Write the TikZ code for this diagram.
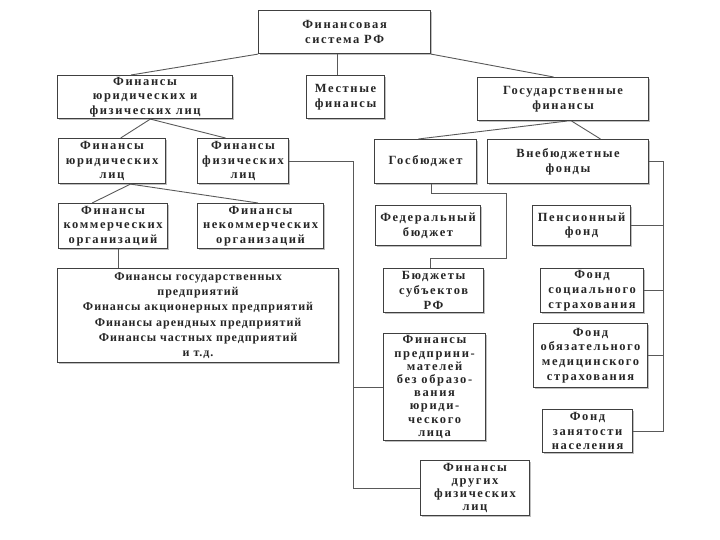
\documentclass[tikz,border=0pt]{standalone}
\usepackage{fontspec}
\setmainfont{Liberation Serif}[LetterSpace=13]
\usetikzlibrary{calc,shadows}
\tikzset{
  box/.style={draw=black!75, line width=1.1pt, fill=white, align=center, anchor=north west,
    inner sep=1pt, font=\bfseries\fontsize{12.5}{14.8}\selectfont, text=black!85,
    drop shadow={shadow xshift=1.2pt, shadow yshift=-1.2pt, fill=black!25, opacity=1}},
  conn/.style={draw=black!65, line width=0.9pt}
}
\begin{document}
\begin{tikzpicture}[x=1pt,y=-1pt]
\useasboundingbox (0,0) rectangle (720,540);
\newcommand{\bx}[7]{\node[box, minimum width=#4pt, minimum height=#5pt, #6] (#1) at (#2,#3) {#7};}
\bx{fs}{258}{10}{172}{43}{}{Финансовая\\система РФ}
\bx{fuf}{57}{75}{175}{43}{}{Финансы\\юридических и\\физических лиц}
\bx{mest}{306}{75}{78}{43}{}{Местные\\финансы}
\bx{gosf}{477}{77}{171}{43}{}{Государственные\\финансы}
\bx{fyur}{58}{138}{107}{45}{}{Финансы\\юридических\\лиц}
\bx{ffiz}{197}{138}{91}{45}{}{Финансы\\физических\\лиц}
\bx{gb}{374}{139}{102}{44}{}{Госбюджет}
\bx{vnb}{487}{139}{161}{44}{}{Внебюджетные\\фонды}
\bx{kom}{58}{203}{109}{45}{}{Финансы\\коммерческих\\организаций}
\bx{nekom}{197}{203}{126}{45}{}{Финансы\\некоммерческих\\организаций}
\bx{fed}{375}{205}{105}{40}{}{Федеральный\\бюджет}
\bx{pens}{532}{205}{98}{40}{}{Пенсионный\\фонд}
\bx{big}{57}{268}{281}{94}{font=\bfseries\fontsize{12}{15.2}\selectfont\addfontfeatures{LetterSpace=8}}{Финансы государственных\\предприятий\\Финансы акционерных предприятий\\Финансы арендных предприятий\\Финансы частных предприятий\\и т.д.}
\bx{subj}{383}{268}{100}{44}{}{Бюджеты\\субъектов\\РФ}
\bx{soc}{540}{268}{103}{44}{}{Фонд\\социального\\страхования}
\bx{oms}{533}{323}{114}{64}{}{Фонд\\обязательного\\медицинского\\страхования}
\bx{pred}{383}{333}{102}{107}{font=\bfseries\fontsize{12.5}{13.2}\selectfont}{Финансы\\предприни-\\мателей\\без образо-\\вания\\юриди-\\ческого\\лица}
\bx{zan}{542}{409}{90}{43}{}{Фонд\\занятости\\населения}
\bx{dr}{420}{460}{109}{55}{font=\bfseries\fontsize{12.5}{13}\selectfont}{Финансы\\других\\физических\\лиц}
% connectors
\draw[conn] (fs.south west) -- ($(fuf.north west)!0.42!(fuf.north east)$);
\draw[conn] (mest.north -| 337,0) -- (fs.south -| 337,0);
\draw[conn] (fs.south east) -- ($(gosf.north west)!0.445!(gosf.north east)$);
\draw[conn] ($(fuf.south west)!0.53!(fuf.south east)$) -- ($(fyur.north west)!0.58!(fyur.north east)$);
\draw[conn] ($(fuf.south west)!0.53!(fuf.south east)$) -- ($(ffiz.north west)!0.31!(ffiz.north east)$);
\draw[conn] ($(fyur.south west)!0.67!(fyur.south east)$) -- ($(kom.north west)!0.31!(kom.north east)$);
\draw[conn] ($(fyur.south west)!0.67!(fyur.south east)$) -- ($(nekom.north west)!0.48!(nekom.north east)$);
\draw[conn] (kom.south -| 118,0) -- (big.north -| 118,0);
\coordinate (lv) at (353,0);
\draw[conn] (ffiz.east) -- (ffiz.east -| lv) -- (dr.west -| lv) -- (dr.west);
\draw[conn] (pred.west -| lv) -- (pred.west);
\draw[conn] ($(gosf.south west)!0.52!(gosf.south east)$) -- ($(gb.north west)!0.43!(gb.north east)$);
\draw[conn] ($(gosf.south west)!0.55!(gosf.south east)$) -- ($(vnb.north west)!0.70!(vnb.north east)$);
\draw[conn] (gb.south -| 431,0) -- (431,193) -- (506,193) -- (506,258) -- (430,258) -- (subj.north -| 430,0);
\coordinate (rv) at (663,0);
\draw[conn] (vnb.east) -- (vnb.east -| rv) -- (zan.east -| rv) -- (zan.east);
\draw[conn] (pens.east) -- (pens.east -| rv);
\draw[conn] (soc.east) -- (soc.east -| rv);
\draw[conn] (oms.east) -- (oms.east -| rv);
\end{tikzpicture}
\end{document}
